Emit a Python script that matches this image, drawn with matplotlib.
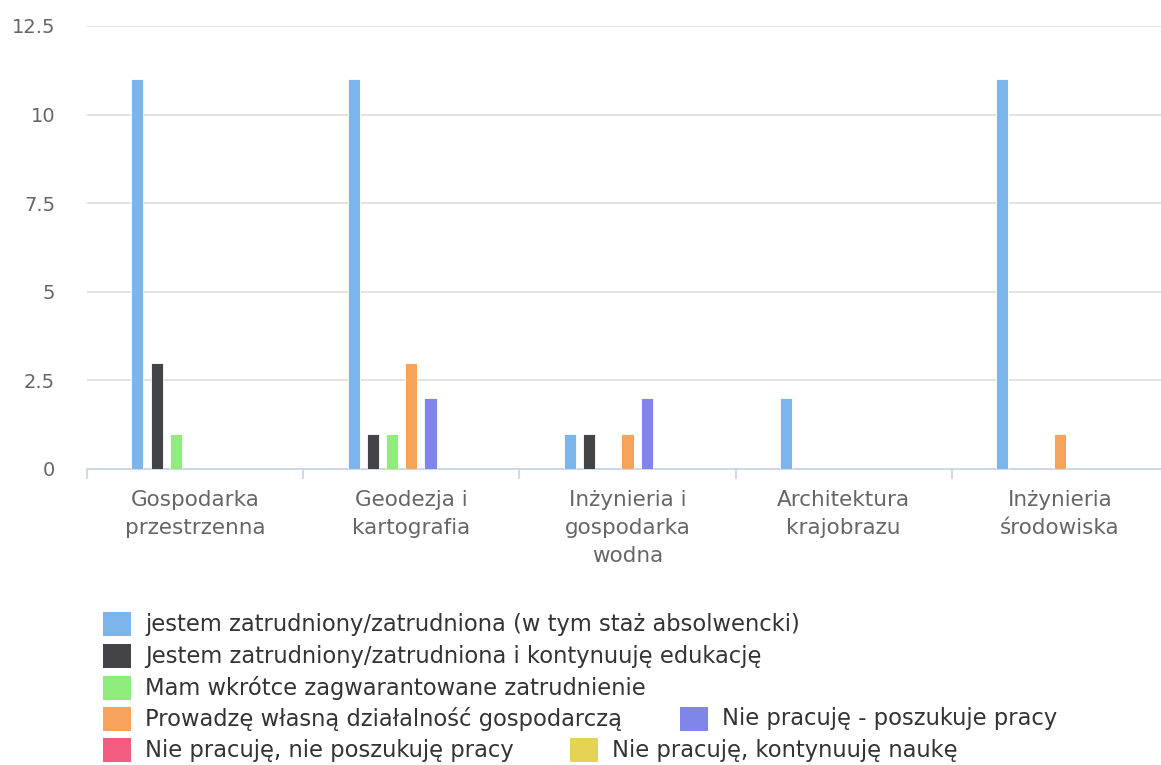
import matplotlib
matplotlib.use("Agg")
import matplotlib.pyplot as plt
from matplotlib.patches import Rectangle
from matplotlib.ticker import FixedLocator

categories = [
    "Gospodarka\nprzestrzenna",
    "Geodezja i\nkartografia",
    "Inżynieria i\ngospodarka\nwodna",
    "Architektura\nkrajobrazu",
    "Inżynieria\nśrodowiska",
]

series_names = [
    "jestem zatrudniony/zatrudniona (w tym staż absolwencki)",
    "Jestem zatrudniony/zatrudniona i kontynuuję edukację",
    "Mam wkrótce zagwarantowane zatrudnienie",
    "Prowadzę własną działalność gospodarczą",
    "Nie pracuję - poszukuje pracy",
    "Nie pracuję, nie poszukuję pracy",
    "Nie pracuję, kontynuuję naukę",
]

zatrudniony = [11, 11, 1, 2, 11]
zatrudniony_edukacja = [3, 1, 1, 0, 0]
zagwarantowane = [1, 1, 0, 0, 0]
dzialalnosc = [0, 3, 1, 0, 1]
poszukuje = [0, 2, 2, 0, 0]
nie_poszukuje = [0, 0, 0, 0, 0]
nauka = [0, 0, 0, 0, 0]

values = [zatrudniony, zatrudniony_edukacja, zagwarantowane, dzialalnosc,
          poszukuje, nie_poszukuje, nauka]

colors = ["#7cb5ec", "#434348", "#90ed7d", "#f7a35c", "#8085e9", "#f15c80", "#e4d354"]

y_ticks = [0, 2.5, 5, 7.5, 10, 12.5]
y_labels = ["0", "2.5", "5", "7.5", "10", "12.5"]

W, H = 1161, 765
fig = plt.figure(figsize=(W / 100, H / 100), dpi=100)
# plot area in pixels: left 87, right 1168 (runs off the edge), top 26, bottom 469
ax = fig.add_axes([87 / W, (H - 469) / H, (1168 - 87) / W, (469 - 26) / H])

slot = 0.089
bar_w = 0.056
n = len(values)
for i, (vals, col) in enumerate(zip(values, colors)):
    xs = [c + (i - (n - 1) / 2) * slot for c in range(len(categories))]
    ax.bar(xs, vals, width=bar_w, color=col, edgecolor="white", linewidth=0.6, zorder=3)

ax.set_xlim(-0.5, len(categories) - 0.5)
ax.set_ylim(0, 12.5)

ax.set_yticks(y_ticks)
ax.set_yticklabels(y_labels, fontsize=14, color="#666666")
ax.tick_params(axis="y", length=0, pad=23)
ax.grid(axis="y", color="#e2e2e2", linewidth=1.4, zorder=0)

ax.set_xticks(range(len(categories)))
ax.set_xticklabels(categories, fontsize=15.5, color="#666666", linespacing=1.5)
ax.xaxis.set_minor_locator(FixedLocator([c - 0.5 for c in range(len(categories) + 1)]))
ax.tick_params(axis="x", which="major", length=0, pad=15)
ax.tick_params(axis="x", which="minor", length=7.5, width=1.3, color="#ccd6eb", direction="out")

for side in ["top", "right", "left"]:
    ax.spines[side].set_visible(False)
ax.spines["bottom"].set_color("#ccd6eb")
ax.spines["bottom"].set_linewidth(1.4)

# legend, laid out in rows like the chart's own legend
legend_pos = [(103, 624), (103, 656), (103, 688), (103, 719), (680, 719), (103, 750), (570, 750)]
for (px, py), name, col in zip(legend_pos, series_names, colors):
    fig.add_artist(Rectangle((px / W, (H - py - 12) / H), 28 / W, 24 / H,
                             transform=fig.transFigure, facecolor=col, edgecolor="none"))
    fig.text((px + 42) / W, (H - py) / H, name, fontsize=16.3, color="#333333",
             va="center", ha="left")

fig.savefig("out.png", dpi=100, facecolor="white")
